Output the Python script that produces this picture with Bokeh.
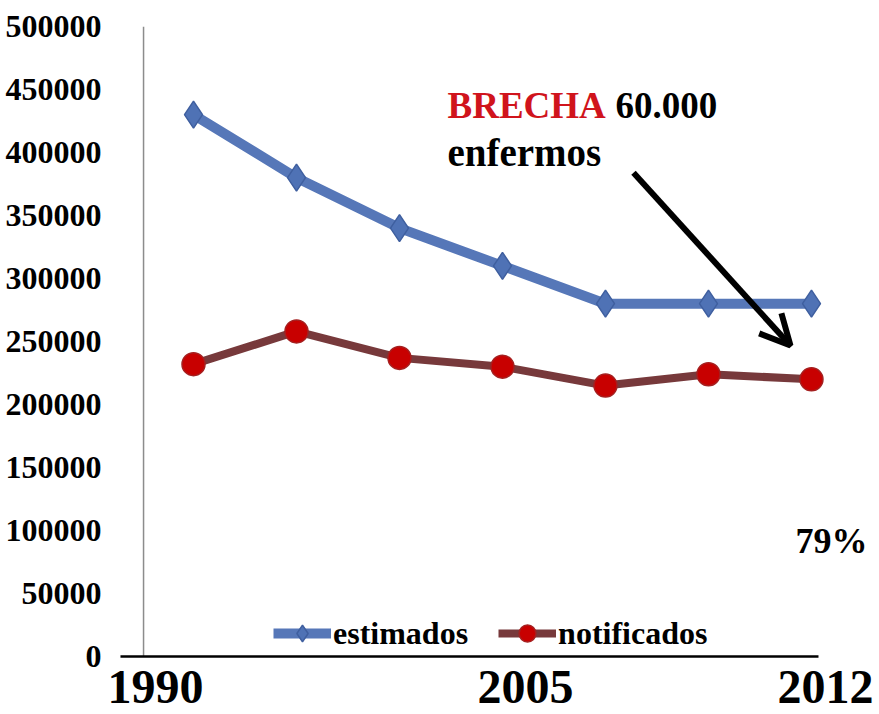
from bokeh.plotting import figure
from bokeh.models import Range1d, FixedTicker, Label, Arrow, OpenHead, Legend, LegendItem, NumeralTickFormatter
from bokeh.embed import file_html
from bokeh.resources import INLINE

# ---- data ----
periodos = ["1990", "", "", "2005", "", "", "2012"]
estimados = [430000, 380000, 340000, 310000, 280000, 280000, 280000]
notificados = [232000, 258000, 237000, 230000, 215000, 224000, 220000]
y_ticks = [0, 50000, 100000, 150000, 200000, 250000, 300000, 350000, 400000, 450000, 500000]
# horizontal nudge (px) of each period label, as placed in the original slide
label_nudge = [-38, 0, 0, 23, 0, 0, 14]

x = list(range(len(periodos)))
FONT = "Liberation Serif"
X0, X1 = -0.835, 6.641          # frame spans 770 px horizontally
Y0, Y1 = -44444, 500000         # frame reaches the bottom of the canvas (room for period labels)
Y_AXIS_X = -0.485               # where the vertical axis line sits
X_AXIS_START, X_AXIS_END = -0.709, 6.068   # extent of the horizontal axis line

p = figure(width=877, height=712,
           x_range=Range1d(X0, X1), y_range=Range1d(Y0, Y1),
           output_backend="svg", toolbar_location=None,
           min_border_left=107, min_border_top=26, min_border_right=0, min_border_bottom=0)
p.xgrid.visible = False
p.ygrid.visible = False
p.outline_line_color = None
p.background_fill_color = "white"
p.border_fill_color = "white"

# y axis labels
p.yaxis.ticker = FixedTicker(ticks=y_ticks)
p.yaxis.formatter = NumeralTickFormatter(format="0")
p.yaxis.axis_line_color = None
p.yaxis.major_tick_line_color = None
p.yaxis.minor_tick_line_color = None
p.yaxis.major_label_standoff = 0
p.yaxis.major_label_text_font = FONT
p.yaxis.major_label_text_font_style = "bold"
p.yaxis.major_label_text_font_size = "32px"
p.yaxis.major_label_text_color = "black"
p.xaxis.visible = False

# axis lines
p.add_layout(Arrow(x_start=Y_AXIS_X, y_start=0, x_end=Y_AXIS_X, y_end=y_ticks[-1], end=None,
                   line_color="#8c8c8c", line_width=1.5))
p.add_layout(Arrow(x_start=X_AXIS_START, y_start=0, x_end=X_AXIS_END, y_end=0, end=None,
                   line_color="black", line_width=2.5))

# period labels
for i, s in enumerate(periodos):
    if s:
        p.add_layout(Label(x=i, y=-24600, x_offset=label_nudge[i], text=s,
                           text_font=FONT, text_font_style="bold", text_font_size="48px",
                           text_color="black", text_align="center", text_baseline="alphabetic"))

# series
bl = p.line(x, estimados, line_color="#5677B8", line_width=10)
bm = p.scatter(x, estimados, marker="diamond", size=27, fill_color="#4F72B5",
               line_color="#3F5F9F", line_width=1.5)
rl = p.line(x, notificados, line_color="#77393B", line_width=8)
rm = p.scatter(x, notificados, marker="circle", size=23, fill_color="#C80000",
               line_color="#A52020", line_width=1.5)

legend = Legend(items=[LegendItem(label="estimados", renderers=[bl, bm]),
                       LegendItem(label="notificados", renderers=[rl, rm])],
                orientation="horizontal", location=(166, 58),
                border_line_color=None, background_fill_alpha=0,
                label_text_font=FONT, label_text_font_style="bold",
                label_text_font_size="32px", label_text_color="black",
                glyph_width=58, glyph_height=42, spacing=30, padding=0, margin=0,
                label_standoff=2)
p.add_layout(legend)

# annotations
p.add_layout(Label(x=2.466, y=437000, text="BRECHA", text_font=FONT, text_font_style="bold",
                   text_font_size="37px", text_color="#D0141C", text_baseline="alphabetic"))
p.add_layout(Label(x=4.097, y=437000, text="60.000", text_font=FONT, text_font_style="bold",
                   text_font_size="37px", text_color="black", text_baseline="alphabetic"))
p.add_layout(Label(x=2.466, y=400000, text="enfermos", text_font=FONT, text_font_style="bold",
                   text_font_size="39px", text_color="black", text_baseline="alphabetic"))
p.add_layout(Label(x=5.845, y=92000, text="79%", text_font=FONT, text_font_style="bold",
                   text_font_size="36px", text_color="black", text_baseline="alphabetic"))
p.add_layout(Arrow(x_start=4.272, y_start=384000, x_end=5.796, y_end=246800,
                   line_color="black", line_width=6,
                   end=OpenHead(size=30, line_width=6, line_color="black")))

open("out.html", "w").write(file_html(p, INLINE))
